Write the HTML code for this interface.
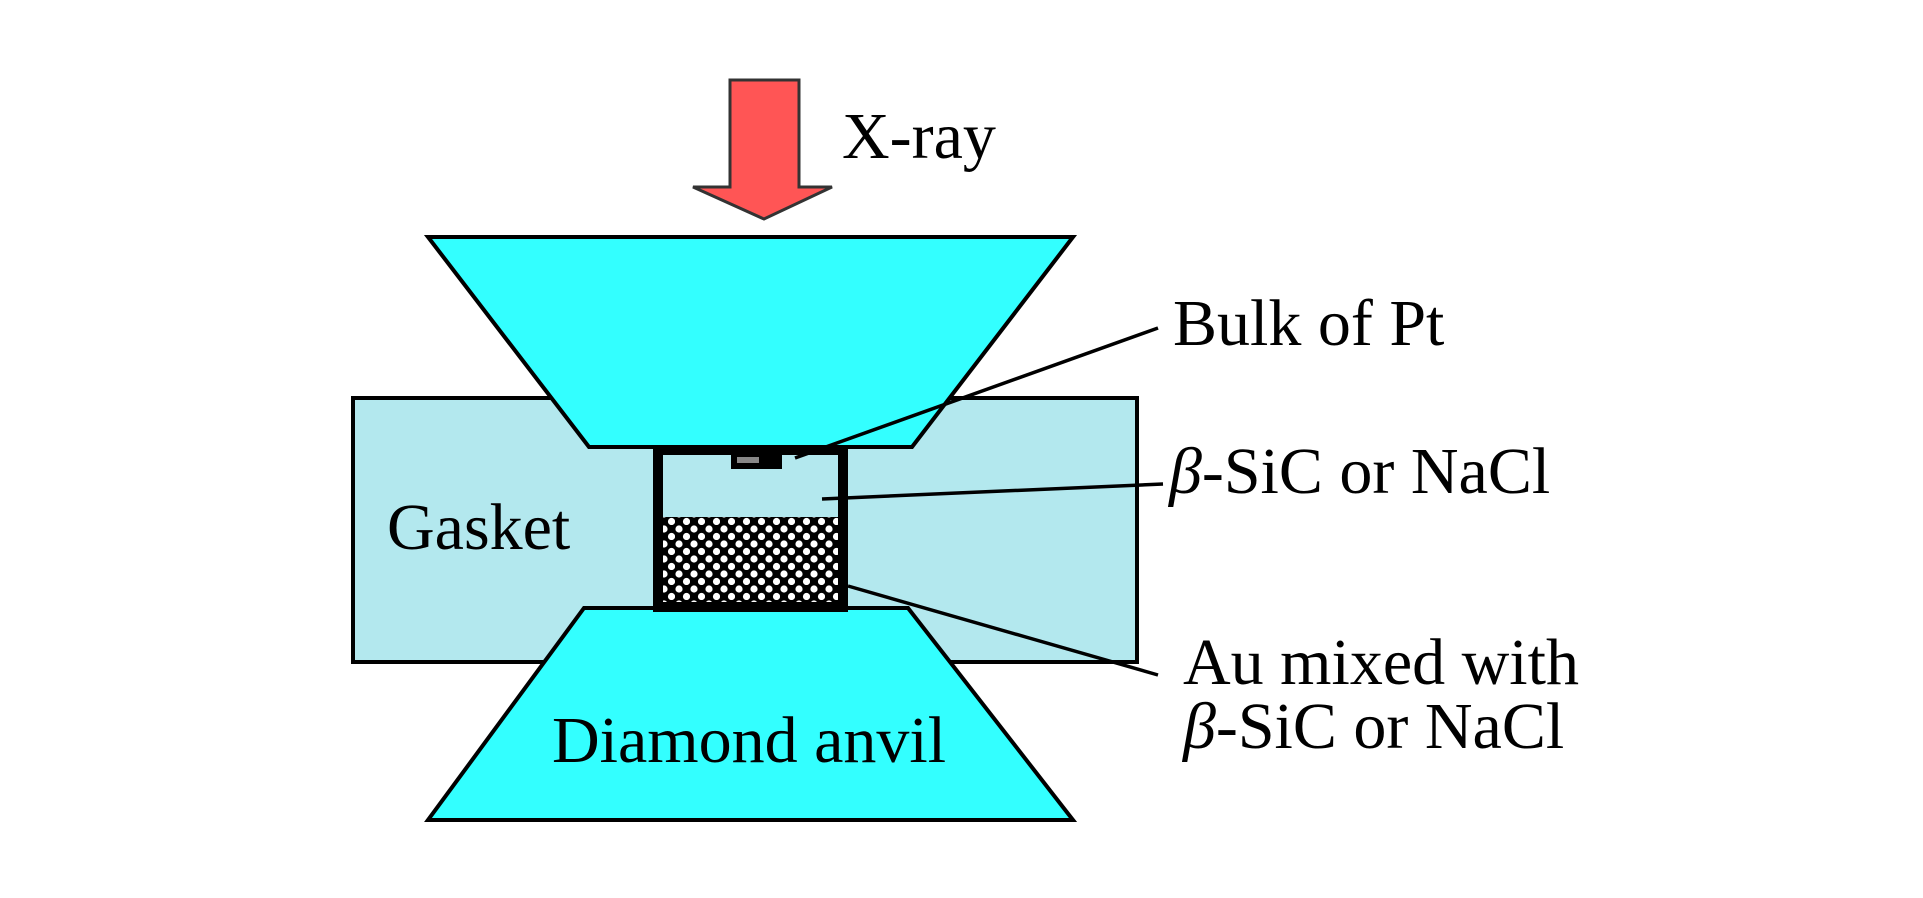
<!DOCTYPE html>
<html><head><meta charset="utf-8"><style>
html,body{margin:0;padding:0;background:#fff;}
svg{display:block;}
text{font-family:"Liberation Serif",serif;font-size:66px;fill:#000;}
</style></head><body>
<svg width="1923" height="898" viewBox="0 0 1923 898" xmlns="http://www.w3.org/2000/svg">
<defs>
<pattern id="dots" x="0" y="0" width="15" height="15" patternUnits="userSpaceOnUse">
<rect width="15" height="15" fill="#000"/>
<circle cx="4" cy="4" r="3.6" fill="#fff"/>
<circle cx="11.5" cy="11.5" r="3.6" fill="#fff"/>
</pattern>
</defs>
<rect x="353" y="398" width="784" height="264" fill="#b3e8ee" stroke="#000" stroke-width="4"/>
<polygon points="428,237 1073,237 912,447 589,447" fill="#33ffff" stroke="#000" stroke-width="4"/>
<polygon points="584,608 908,608 1073,820 428,820" fill="#33ffff" stroke="#000" stroke-width="4"/>
<rect x="658" y="450" width="185" height="157" fill="#b3e8ee" stroke="#000" stroke-width="10"/>
<rect x="663" y="517" width="175" height="85" fill="url(#dots)"/>
<rect x="731" y="454" width="51" height="15" fill="#000"/>
<rect x="737" y="457" width="22" height="6" fill="#888"/>
<line x1="1158" y1="328" x2="795" y2="458" stroke="#000" stroke-width="3.5"/>
<line x1="1163" y1="484" x2="822" y2="499" stroke="#000" stroke-width="3.5"/>
<line x1="848" y1="586" x2="1158" y2="675" stroke="#000" stroke-width="3.5"/>
<polygon points="730,80 799,80 799,187 832,187 764,219 693,187 730,187" fill="#ff5555" stroke="#333" stroke-width="3"/>
<text x="842" y="158">X-ray</text>
<text x="1173" y="345">Bulk of Pt</text>
<text x="1169" y="493"><tspan font-style="italic">β</tspan>-SiC or NaCl</text>
<text x="387" y="549">Gasket</text>
<text x="1183" y="684">Au mixed with</text>
<text x="1183" y="748"><tspan font-style="italic">β</tspan>-SiC or NaCl</text>
<text x="552" y="762">Diamond anvil</text>
</svg>
</body></html>
